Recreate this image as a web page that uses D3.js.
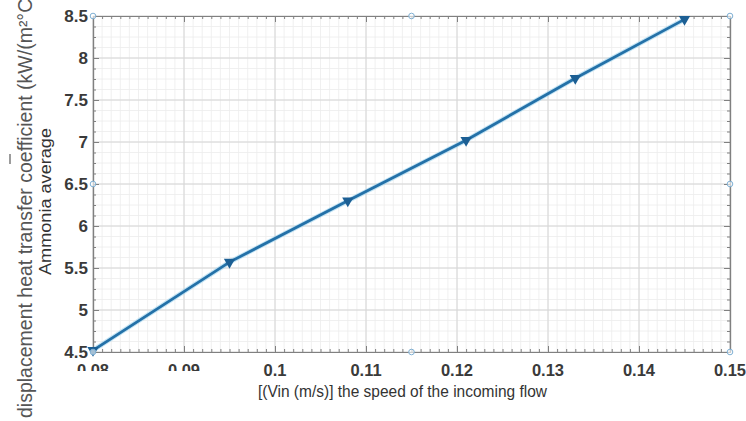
<!DOCTYPE html>
<html>
<head>
<meta charset="UTF-8">
<title>Ammonia average heat transfer coefficient vs inlet speed</title>
<script src="https://d3js.org/d3.v7.min.js"></script>
<style>
  body { margin: 0; padding: 0; background: #fff; }
  svg { display: block; }
  .tick-label { font-family: "Liberation Sans", Arial, sans-serif; font-weight: bold; font-size: 17px; fill: #3a3a3a; }
</style>
</head>
<body>
<div id="chart"></div>
<script>
// data
const speed = [0.08, 0.095, 0.108, 0.121, 0.133, 0.145];
const htc = [4.52, 5.57, 6.30, 7.02, 7.76, 8.46];
const xTicks = [0.08, 0.09, 0.1, 0.11, 0.12, 0.13, 0.14, 0.15];
const xTickLabels = ["0.08", "0.09", "0.1", "0.11", "0.12", "0.13", "0.14", "0.15"];
const yTicks = [4.5, 5, 5.5, 6, 6.5, 7, 7.5, 8, 8.5];
const yTickLabels = ["4.5", "5", "5.5", "6", "6.5", "7", "7.5", "8", "8.5"];
const xLabel = "[(Vin (m/s)] the speed of the incoming flow";
const yLabelOuter = "displacement heat transfer coefficient (kW/(m\u00B2\u00B0C";
const yLabelInner = "Ammonia average";

const width = 746, height = 421;
const plot = { left: 93, right: 730, top: 16, bottom: 352 };

const svg = d3.select("#chart").append("svg")
  .attr("width", width).attr("height", height);

const x = d3.scaleLinear().domain([0.08, 0.15]).range([plot.left, plot.right]);
const y = d3.scaleLinear().domain([4.5, 8.5]).range([plot.bottom, plot.top]);

// minor grid
const xMinor = d3.range(0, 71).map(i => 0.08 + i * 0.001);
const yMinor = d3.range(0, 33).map(i => 4.5 + i * 0.125);
const grid = svg.append("g");
grid.selectAll(".xm").data(xMinor).enter().append("line")
  .attr("x1", d => x(d)).attr("x2", d => x(d))
  .attr("y1", plot.top).attr("y2", plot.bottom)
  .attr("stroke", "#ececec").attr("stroke-width", 0.8);
grid.selectAll(".ym").data(yMinor).enter().append("line")
  .attr("x1", plot.left).attr("x2", plot.right)
  .attr("y1", d => y(d)).attr("y2", d => y(d))
  .attr("stroke", "#ececec").attr("stroke-width", 0.8);
// major grid
grid.selectAll(".xM").data(xTicks).enter().append("line")
  .attr("x1", d => x(d)).attr("x2", d => x(d))
  .attr("y1", plot.top).attr("y2", plot.bottom)
  .attr("stroke", "#d6d6d6").attr("stroke-width", 1);
grid.selectAll(".yM").data(yTicks).enter().append("line")
  .attr("x1", plot.left).attr("x2", plot.right)
  .attr("y1", d => y(d)).attr("y2", d => y(d))
  .attr("stroke", "#d6d6d6").attr("stroke-width", 1);

// axes on all four sides, ticks pointing inwards
const axisColor = "#808080";
function styleAxis(g) {
  g.select(".domain").attr("stroke", axisColor).attr("stroke-width", 1.2);
  g.selectAll(".tick line").attr("stroke", axisColor);
  g.selectAll(".tick text").remove();
}
const axes = [
  [d3.axisBottom(x).tickValues(xMinor).tickSizeOuter(0).tickSizeInner(-3), plot.bottom, 0],
  [d3.axisTop(x).tickValues(xMinor).tickSizeOuter(0).tickSizeInner(-3), plot.top, 0],
  [d3.axisLeft(y).tickValues(yMinor).tickSizeOuter(0).tickSizeInner(-3), 0, plot.left],
  [d3.axisRight(y).tickValues(yMinor).tickSizeOuter(0).tickSizeInner(-3), 0, plot.right],
  [d3.axisBottom(x).tickValues(xTicks).tickSizeOuter(0).tickSizeInner(-6), plot.bottom, 0],
  [d3.axisTop(x).tickValues(xTicks).tickSizeOuter(0).tickSizeInner(-6), plot.top, 0],
  [d3.axisLeft(y).tickValues(yTicks).tickSizeOuter(0).tickSizeInner(-6), 0, plot.left],
  [d3.axisRight(y).tickValues(yTicks).tickSizeOuter(0).tickSizeInner(-6), 0, plot.right]
];
axes.forEach(([ax, ty, tx]) => {
  svg.append("g").attr("transform", `translate(${tx},${ty})`).call(ax).call(styleAxis);
});

// tick labels
svg.selectAll(".xl").data(xTicks).enter().append("text")
  .attr("class", "tick-label")
  .attr("x", d => x(d)).attr("y", 376)
  .attr("text-anchor", "middle")
  .style("font-size", "16.5px")
  .text((d, i) => xTickLabels[i]);
svg.selectAll(".yl").data(yTicks).enter().append("text")
  .attr("class", "tick-label")
  .attr("x", 88).attr("y", d => y(d) + 6)
  .attr("text-anchor", "end")
  .text((d, i) => yTickLabels[i]);
// lower half of the first two x labels is cut off in the picture
svg.append("rect").attr("x", 60).attr("y", 371).attr("width", 195).attr("height", 13).attr("fill", "#fff");

// axis titles
svg.append("text")
  .attr("x", 258).attr("y", 397)
  .attr("textLength", 289).attr("lengthAdjust", "spacingAndGlyphs")
  .style("font-family", "'Liberation Sans', Arial, sans-serif")
  .style("font-size", "16.5px").style("fill", "#333")
  .text(xLabel);
svg.append("text")
  .attr("transform", "translate(32,418) rotate(-90)")
  .style("font-family", "'Liberation Sans', Arial, sans-serif")
  .style("font-size", "19.5px").style("fill", "#555")
  .text(yLabelOuter);
svg.append("text")
  .attr("transform", "translate(51,275) rotate(-90)")
  .attr("textLength", 147).attr("lengthAdjust", "spacingAndGlyphs")
  .style("font-family", "'Liberation Sans', Arial, sans-serif")
  .style("font-size", "16px").style("fill", "#333")
  .text(yLabelInner);
// overbar mark next to the rotated label
svg.append("line").attr("x1", 10).attr("x2", 10).attr("y1", 154).attr("y2", 164)
  .attr("stroke", "#666").attr("stroke-width", 1.3);

// data line
const line = d3.line().x((d, i) => x(speed[i])).y(d => y(d));
svg.append("path").datum(htc)
  .attr("d", line)
  .attr("fill", "none")
  .attr("stroke", "#9fd3ee").attr("stroke-width", 4.8).attr("stroke-opacity", 0.6);
svg.append("path").datum(htc)
  .attr("d", line)
  .attr("fill", "none")
  .attr("stroke", "#2471a8").attr("stroke-width", 2.8);

// markers
svg.selectAll(".mk").data(htc).enter().append("path")
  .attr("d", d3.symbol(d3.symbolTriangle, 55))
  .attr("transform", (d, i) => `translate(${x(speed[i])},${y(d)}) rotate(180)`)
  .attr("fill", "#1c5f94");

// selection handles on the axes box
const handles = [
  [0.08, 8.5], [0.115, 8.5], [0.15, 8.5],
  [0.08, 6.5], [0.15, 6.5],
  [0.08, 4.5], [0.115, 4.5], [0.15, 4.5]
];
svg.selectAll(".hd").data(handles).enter().append("circle")
  .attr("cx", d => x(d[0])).attr("cy", d => y(d[1])).attr("r", 2.8)
  .attr("fill", "#fff").attr("fill-opacity", 0.6)
  .attr("stroke", "#7fb0d4").attr("stroke-width", 1);
</script>
</body>
</html>
